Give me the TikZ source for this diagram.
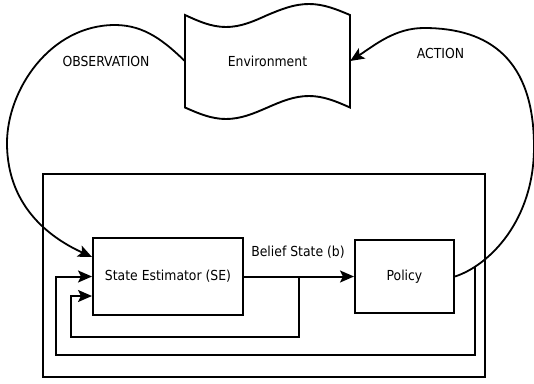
\documentclass[tikz,border=0pt]{standalone}
\usepackage{fontspec}
\setmainfont{DejaVu Sans Condensed}
\usetikzlibrary{arrows.meta,intersections,calc}
\begin{document}
\begin{tikzpicture}[x=1pt,y=-1pt,
  txt/.style={font=\fontsize{13.8}{16}\selectfont, inner sep=0pt},
  boxnode/.style={draw, line width=2pt, txt},
  conn/.style={line width=2pt},
  curve/.style={line width=1.8pt},
  tip/.style={-{Stealth[length=14pt,width=12pt,inset=3pt]}}]
\useasboundingbox (0,0) rectangle (534,383);
% environment (wavy tape)
\draw[line width=1.9pt] (185,15) sin (226,27) cos (267.5,15) sin (309,4) cos (350,15)
  -- (350,107.5) sin (309,96) cos (267.5,107.5) sin (226,119) cos (185,107.5) -- cycle;
\node[txt, minimum width=165pt, minimum height=93pt] (env) at (267.5,61) {Environment};
% agent box
\node[draw, line width=2pt, minimum width=442pt, minimum height=203pt, inner sep=0pt] (agent) at (264,275.5) {};
\node[boxnode, minimum width=150pt, minimum height=77pt] (se) at (168,276.5) {State Estimator (SE)};
\node[boxnode, minimum width=99pt, minimum height=73pt] (pol) at (404.5,276.5) {Policy};
% labels
\node[txt] (obs) at (106,61) {OBSERVATION};
\node[txt] (act) at (440.5,53) {ACTION};
\node[txt] (bel) at (298,252) {Belief State (b)};
% belief arrow
\draw[conn, tip] (se.east) -- (pol.west);
\coordinate (b1) at ($(se.east)!0.5!(pol.west)$);
% observation
\draw[curve, tip] (env.west) .. controls (165,42) and (145,25) .. (115,25)
  .. controls (50,25) and (7,90) .. (7,143)
  .. controls (7,210) and (55,240) .. ([yshift=19.5pt]se.west);
% action
\draw[curve, tip, name path=actp] (pol.east) .. controls (490,265) and (534,220) .. (534,147)
  .. controls (534,60) and (490,28) .. (424,28)
  .. controls (395,28) and (375,45) .. (env.east);
\path[name path=vl] (475,150) -- (475,300);
\path[name intersections={of=actp and vl, by=ls}];
% feedback loops
\draw[conn, tip] (b1) |- (71,337) |- ([yshift=-19.5pt]se.west);
\draw[conn, tip] (ls) |- (56,355) |- (se.west);
\end{tikzpicture}
\end{document}
